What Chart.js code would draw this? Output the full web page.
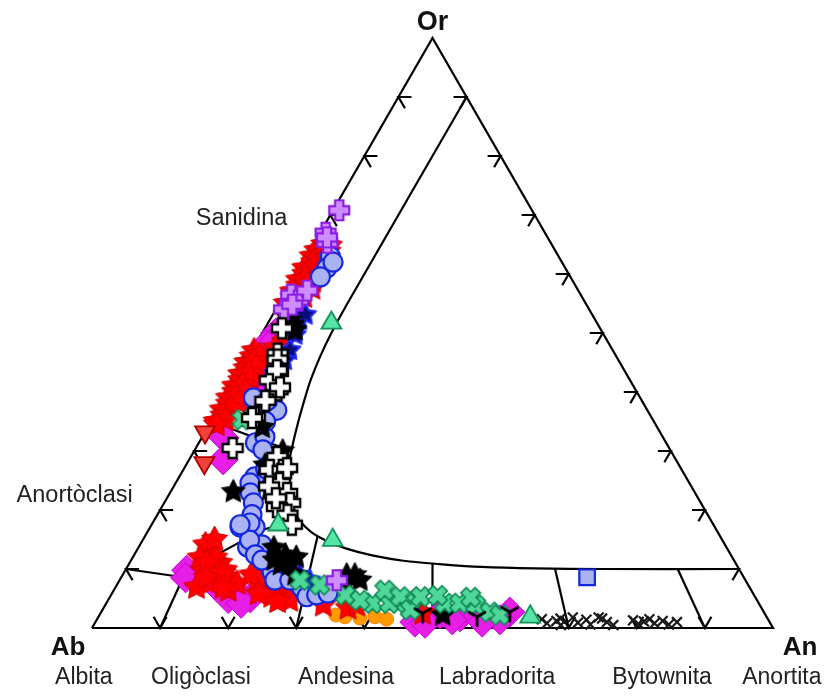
<!DOCTYPE html>
<html>
<head>
<meta charset="utf-8">
<script src="https://cdn.jsdelivr.net/npm/chart.js"></script>
<style>
  html, body { margin: 0; padding: 0; background: #fff; }
  canvas { display: block; }
</style>
</head>
<body>
<canvas id="c" width="828" height="697"></canvas>
<script>
// Feldspar compositions, each point as [An, Or] in mol %; Ab = 100 - An - Or.
const redStars = [
  [1.5,65],[2.5,64.8],[1,64],[2.8,63.8],[0.8,63],[2,63.2],[3.2,62.8],[1.5,62],[2.6,61.8],
  [0.7,61],[2,61.2],[3,60.6],[1.2,60],[2.4,59.8],[0.8,59],[1.8,59.2],[3,58.8],[1.3,58],
  [2.5,58.2],[3.5,57.6],[0.9,57],[2,56.8],[1.5,56],[3,56.2],[1,55],[2.2,55.2],
  [4,48.5],[3.2,47.5],
  [0.3,47],[0.5,46],[1.5,46.2],[0.2,45],[1.2,45.2],[0.6,44],[2,44.2],[0.3,43],[1.4,43.2],
  [0.8,42],[2.2,42.2],[0.4,41],[1.5,41.2],[0.9,40],[2.4,40.2],[0.5,39],[1.6,39.2],[1,38],
  [2.5,38.2],[0.6,37],[1.8,37.2],[1.2,36],[0.7,35],[2,35.3],[1,34.5],
  [10.9,12.9],[11.4,9.8],[13.3,11.0],[15.5,8.6],[13.5,7.6],[11.9,6.9],[16.8,6.4],[9.6,14.1],
  [12.1,11.9],[9.9,11.9],[14.6,9.8],[17.5,7.6],[11.4,11.0],[14.6,9.3],[10.5,15],[12.5,8.5],[15.8,6.9],
  [20.2,8.1],[22.2,6.9],[23.9,6.4],[25.6,6.1],[20.8,8.6],[23.7,5.4],[26.7,4.7],[18.9,9.0],[21.5,5.8],[25,4.5],
  [32.0,3.9],[35.9,3.4],[36.9,3.9],[47.3,2.5]
];
const redTriangles = [[0,33.2],[2.5,28]];
const magentaDiamonds = [
  [3.3,32.2],[5,28.5],
  [2,50],[3,49.5],[1.5,48],[3,47],[2.2,46],[3.5,45],[2,44],[3.8,43],[2.8,42],[4,41],[3,40],
  [4.5,39.5],[3.5,38.5],[2.5,48.8],[4.2,44.5],
  [9.0,9.8],[9.5,8.5],[16.6,6.4],[18.9,5.6],[20.7,5.1],[14.4,7.3],[17.5,5],[19.8,4.2],
  [47.1,2.2],[46.9,1.0],[53.1,1.9],[55.6,1.9],[60.0,2.7],[49.9,2.4],[52.2,1.4],[59.2,1.4],[48.5,0.8],[56.8,1]
];
const purpleCrosses = [
  [0.9,70.8],[0.8,67],[1.9,65.3],[1.4,66.2],[1,56.5],[2.5,55.5],[1.2,54],[3,57.2],[2,54.8],[31.9,8.1]
];
const blueCircles = [
  [3.5,63],[4,61],[3.8,59.5],[4.4,62],
  [4.2,39.0],[7.0,37.5],[8.7,36.9],[8.3,31.4],[9.2,32.4],[10.0,30.2],[6.5,38.5],[8,35],
  [11.1,25.6],[10.9,24.6],[11.8,22.9],[13.1,21.2],[13.9,19.2],[13.2,17.1],[15.4,17.1],[14.3,17.8],[12,27],
  [16.0,13.7],[17.9,12.7],[17.9,14.1],[20.2,11.0],[21.7,9.5],[15.7,14.9],[17.8,12.4],[19.2,11.5],[22.8,8.1],[13,17.5],
  [27.4,6.8],[28.9,5.3],[30.2,5.6],[31.7,5.9],[25,8.1]
];
const whiteCrosses = [
  [2.5,50.8],[4,46.5],[4.5,45.5],[5.6,43.4],[7.1,40.3],[5.1,42],[5.3,43.7],[7.2,40.8],[6.2,38.5],
  [6.0,35.8],[5.7,35.6],[5.4,30.5],[12.7,29.0],[12.7,26.8],[14.6,26.8],[15.3,24.6],[17.2,22.9],
  [18.5,21.2],[16.9,20.5],[19.1,19.2],[20.6,17.5],[15.1,27.1],[14,24],[16,22]
];
const blackStars = [
  [3.0,52.2],[4.6,50.5],[1.8,53.1],[3.8,51.4],
  [9.2,23.1],[11.6,27.6],[14.4,23.4],[13,30],[8,34],
  [19.9,13.6],[22.2,12.4],[23.7,10.7],[22.3,10.7],[25.3,9.0],[21,11.5],[24,12],
  [32.9,9.0],[34.1,9.0],[35.3,8.1],[33.5,7.5],[50.4,2.2]
];
const navyStars = [[4.4,52.2],[5.0,49.7],[5.5,47.1],[4.8,53.1],[5.6,45.4],[26.0,9.0],[27.9,8.1],[44.9,4.4],[29,7]];
const greenTriangles = [[9.3,51.7],[27.9,14.9],[18.6,17.5],[63.4,1.9]];
const greenX = [
  [4.4,35.3],[39.1,4.2],[41.6,4.2],[44.1,4.2],[39.8,6.4],[42.6,5.3],[45.2,3.1],[45.6,5.3],[49.7,4.2],
  [51.9,4.2],[54.4,3.9],[57.1,2.7],[58.8,2.2],[29.8,7.3],[26.5,8.1],[34.4,5.6],[37.0,4.7],[48,5.5],[53,5.2]
];
const orangeDots = [[36.2,1.9],[38.5,1.7],[40.6,1.9],[34.7,2.2],[42.5,1.5]];
const blackX = [
  [65.3,1.5],[66.4,0.8],[67.6,1.2],[68.6,0.5],[69.7,1.8],[70.9,0.9],[71.9,1.4],[72.9,0.6],[74.1,1.6],
  [75.1,1.0],[76.3,0.5],[78.8,1.3],[79.9,0.7],[81.1,1.5],[82.2,0.8],[83.2,1.2],[84.4,0.6],[85.4,1.0],
  [68,1.6],[73.5,1.8],[80.5,1.1]
];
const blueSquares = [[68.4,8.6]];
const triMarks = [[47.3,2.5],[55.6,1.9],[60.0,2.7]];

// Field boundaries, [An, Or]
const frame = [[0,0],[100,0],[0,100],[0,0]];
const solvus = [[10,90],[10,55],[10.15,50],[10.5,46],[11.1,42],[11.9,38.5],[12.8,35],[13.8,31.5],
  [14.9,28],[16.2,25],[17.6,22.5],[19.3,20.2],[21.4,18.2],[24,16.3],[27,14.8],[30.5,13.5],[35,12.3],
  [40,11.4],[46,10.8],[52,10.35],[60,10.1],[70,10],[90,10]];
const albiteAnorthoclase = [[0,10],[9.1,8.6]];
const an10 = [[10,0],[9.1,8.6]];
const anorthoclaseOligoclase = [[9.1,8.6],[12.4,12.7],[16.7,16.6],[21,18.4]];
const sanidineAnorthoclase = [[0,35],[14.3,30]];
const an30 = [[30,0],[25.33,15.6]];
const an50 = [[50,0],[44.55,10.9]];
const an70 = [[70,0],[63,10]];
const an90 = [[90,0],[81,10]];
const tickSteps = [10,20,30,40,50,60,70,80,90];

const H = Math.sqrt(3) / 2;
const toXY = ([an, or]) => ({ x: an + or / 2, y: or * H });

// marker images
function mk(size) {
  const c = document.createElement('canvas');
  c.width = c.height = size;
  return [c, c.getContext('2d')];
}
function starImg(d, fill, stroke, lw, inner) {
  const s = Math.ceil(d + lw * 2 + 2);
  const [c, g] = mk(s);
  const R = d / 2, r = R * inner;
  g.beginPath();
  for (let i = 0; i < 10; i++) {
    const a = -Math.PI / 2 + i * Math.PI / 5;
    const rr = i % 2 ? r : R;
    g.lineTo(s / 2 + rr * Math.cos(a), s / 2 + rr * Math.sin(a));
  }
  g.closePath();
  g.fillStyle = fill; g.fill();
  g.lineWidth = lw; g.strokeStyle = stroke; g.lineJoin = 'round'; g.stroke();
  return c;
}
function plusImg(d, arm, fill, stroke, lw, rot) {
  const s = Math.ceil(d * 1.45 + lw * 2 + 2);
  const [c, g] = mk(s);
  const h = d / 2, a = d * arm / 2;
  const pts = [[-a,-h],[a,-h],[a,-a],[h,-a],[h,a],[a,a],[a,h],[-a,h],[-a,a],[-h,a],[-h,-a],[-a,-a]];
  g.translate(s / 2, s / 2);
  g.rotate(rot);
  g.beginPath();
  pts.forEach(([x, y]) => g.lineTo(x, y));
  g.closePath();
  g.fillStyle = fill; g.fill();
  g.lineWidth = lw; g.strokeStyle = stroke; g.lineJoin = 'miter'; g.stroke();
  return c;
}
function triImg(len, color, lw) {
  const s = Math.ceil(len * 2 + lw * 2 + 2);
  const [c, g] = mk(s);
  g.translate(s / 2, s / 2);
  g.strokeStyle = color; g.lineWidth = lw; g.lineCap = 'round';
  [210, 330, 90].forEach(deg => {
    const t = deg * Math.PI / 180;
    g.beginPath(); g.moveTo(0, 0); g.lineTo(len * Math.cos(t), len * Math.sin(t)); g.stroke();
  });
  return c;
}

const imgRedStar = starImg(27, '#ff0000', '#d00000', 1, 0.52);
const imgBlackStar = starImg(25, '#000000', '#000000', 1, 0.5);
const imgNavyStar = starImg(22, '#0c0c78', '#1f2cff', 2, 0.5);
const imgPurpleCross = plusImg(20, 0.42, '#cf8cff', '#8a1ee6', 2.2, 0);
const imgWhiteCross = plusImg(20, 0.4, '#ffffff', '#000000', 2.4, 0);
const imgGreenX = plusImg(20, 0.38, '#4fd79a', '#0f8a55', 1.6, Math.PI / 4);
const imgTri = triImg(9, '#000000', 2.8);

const marker = (data, order, opt) => Object.assign({
  data: data.map(toXY), order, showLine: false, clip: false,
  pointRadius: 9, pointHoverRadius: 9
}, opt);
const boundary = (pts, tension) => ({
  data: pts.map(toXY), order: 100, showLine: true, clip: false, fill: false,
  borderColor: '#000', borderWidth: 2.2, pointRadius: 0, pointHoverRadius: 0, tension: tension || 0
});

const datasets = [
  marker(triMarks, 0, { pointStyle: imgTri }),
  marker(greenTriangles, 1, { pointStyle: 'triangle', pointRadius: 11.5, backgroundColor: '#55e6a5', borderColor: '#14945c', borderWidth: 1.8 }),
  marker(blueSquares, 1, { pointStyle: 'rect', pointRadius: 11, backgroundColor: '#aab2f2', borderColor: '#1428e0', borderWidth: 2.2 }),
  marker(redTriangles, 2, { pointStyle: 'triangle', rotation: 180, pointRadius: 11.5, backgroundColor: '#f0403a', borderColor: '#b00000', borderWidth: 1.8 }),
  marker(whiteCrosses, 2, { pointStyle: imgWhiteCross }),
  marker(purpleCrosses, 3, { pointStyle: imgPurpleCross }),
  marker(greenX, 3, { pointStyle: imgGreenX }),
  marker(blackStars, 4, { pointStyle: imgBlackStar }),
  marker(blueCircles, 5, { pointStyle: 'circle', pointRadius: 9.5, backgroundColor: '#aab2f2', borderColor: '#1428e0', borderWidth: 2.2 }),
  marker(navyStars, 6, { pointStyle: imgNavyStar }),
  marker(redStars, 6, { pointStyle: imgRedStar }),
  marker(magentaDiamonds, 7, { pointStyle: 'rectRot', pointRadius: 15, backgroundColor: '#e61ee6', borderColor: '#c000d0', borderWidth: 1 }),
  marker(orangeDots, 9, { pointStyle: 'circle', pointRadius: 7, backgroundColor: '#ff9a00', borderColor: '#ff8000', borderWidth: 1 }),
  marker(blackX, 10, { pointStyle: 'crossRot', pointRadius: 7, borderColor: '#1a1a1a', borderWidth: 2.2 }),
  boundary(frame),
  boundary(solvus, 0.2),
  boundary(albiteAnorthoclase),
  boundary(an10),
  boundary(anorthoclaseOligoclase),
  boundary(sanidineAnorthoclase),
  boundary(an30),
  boundary(an50),
  boundary(an70),
  boundary(an90)
];

// edge ticks and labels
const decor = {
  id: 'decor',
  beforeDatasetsDraw(chart) {
    const { ctx, scales: { x, y } } = chart;
    const px = (an, or) => ({ x: x.getPixelForValue(an + or / 2), y: y.getPixelForValue(or * H) });
    const L = 13;
    const chevron = (p, a1, a2) => {
      ctx.beginPath();
      ctx.moveTo(p.x + a1[0] * L, p.y + a1[1] * L);
      ctx.lineTo(p.x, p.y);
      ctx.lineTo(p.x + a2[0] * L, p.y + a2[1] * L);
      ctx.stroke();
    };
    ctx.save();
    ctx.strokeStyle = '#000';
    ctx.lineWidth = 2.2;
    ctx.lineJoin = 'miter';
    tickSteps.forEach(v => {
      chevron(px(0, v), [1, 0], [0.5, H]);
      chevron(px(100 - v, v), [-1, 0], [-0.5, H]);
      chevron(px(v, 0), [-0.5, -H], [0.5, -H]);
    });
    ctx.restore();
  },
  afterDraw(chart) {
    const { ctx, scales: { x, y } } = chart;
    const px = (an, or) => ({ x: x.getPixelForValue(an + or / 2), y: y.getPixelForValue(or * H) });
    const fam = '"Liberation Sans", Arial, sans-serif';
    ctx.save();
    ctx.textAlign = 'center';
    ctx.textBaseline = 'alphabetic';
    ctx.fillStyle = '#111';
    const orV = px(0, 100), abV = px(0, 0), anV = px(100, 0);
    ctx.font = 'bold 27px ' + fam;
    ctx.fillText('Or', orV.x, orV.y - 8);
    ctx.font = 'bold 26px ' + fam;
    ctx.fillText('Ab', abV.x - 24, abV.y + 27);
    ctx.fillText('An', anV.x + 27, anV.y + 27);
    ctx.fillStyle = '#222';
    ctx.font = '23px ' + fam;
    const base = abV.y + 56;
    [['Albita', -1.2], ['Oligòclasi', 16], ['Andesina', 37.3], ['Labradorita', 59.5],
     ['Bytownita', 83.7], ['Anortita', 101.3]].forEach(([t, an]) => {
      ctx.fillText(t, px(an, 0).x, base);
    });
    ctx.font = '23.5px ' + fam;
    const san = px(0, 68);
    ctx.fillText('Sanidina', san.x - 82, san.y - 2);
    const ano = px(0, 24);
    ctx.fillText('Anortòclasi', ano.x - 99, ano.y + 16);
    ctx.restore();
  }
};

new Chart(document.getElementById('c'), {
  type: 'scatter',
  data: { datasets },
  options: {
    responsive: false,
    animation: false,
    devicePixelRatio: 1,
    layout: { padding: { left: 92, right: 55, top: 38, bottom: 69 } },
    scales: {
      x: { type: 'linear', min: 0, max: 100, display: false },
      y: { type: 'linear', min: 0, max: 100 * H, display: false }
    },
    plugins: { legend: { display: false }, tooltip: { enabled: false } },
    events: []
  },
  plugins: [decor]
});
</script>
</body>
</html>
